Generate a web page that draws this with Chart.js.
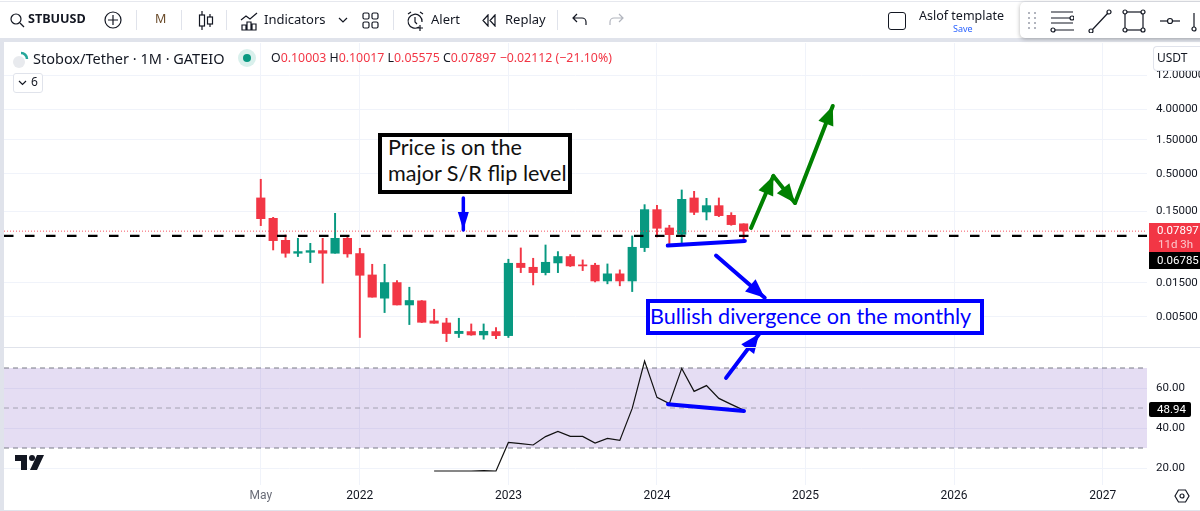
<!DOCTYPE html>
<html>
<head>
<meta charset="utf-8">
<title>STBUUSD</title>
<script src="https://cdn.jsdelivr.net/npm/chart.js@4/dist/chart.umd.min.js"></script>
<style>
  html, body { margin: 0; padding: 0; background: #fff; }
  body { width: 1200px; height: 511px; overflow: hidden; position: relative; font-family: "Noto Sans", sans-serif; color: #131722; }
  canvas { position: absolute; left: 0; top: 0; }
  .t { position: absolute; white-space: nowrap; line-height: 1; }
  .n { font-family: Roboto, sans-serif; }
  .big { font-family: Lato, sans-serif; font-size: 21.6px; }
  .r { position: absolute; }
  svg { position: absolute; fill: none; stroke: #131722; stroke-width: 1.2; }
</style>
</head>
<body>
<canvas id="chart" width="1200" height="511"></canvas>

<!-- frame -->
<div class="r" style="left:0;top:38px;width:1200px;height:4px;background:#e0e3eb"></div>
<div class="r" style="left:0;top:38px;width:4px;height:473px;background:#e0e3eb"></div>
<div class="r" style="left:4px;top:347px;width:1196px;height:1px;background:#e0e3eb"></div>
<div class="r" style="left:4px;top:510px;width:1196px;height:1px;background:#e0e3eb"></div>
<div class="r" style="left:0;top:1px;width:1200px;height:1px;background:#e6e8ee"></div>

<!-- top toolbar -->
<svg style="left:9px;top:12px" width="16" height="16"><circle cx="7" cy="7" r="5"/><path d="M11 11l4 4"/></svg>
<span class="t" style="left:28px;top:13px;font-size:12.6px;font-weight:700">STBUUSD</span>
<svg style="left:104px;top:11px" width="18" height="18"><circle cx="9" cy="9" r="8"/><path d="M9 4v10M4 9h10"/></svg>
<div class="r" style="left:136px;top:10px;width:1px;height:20px;background:#e0e3eb"></div>
<span class="t" style="left:155px;top:13px;font-size:12.5px;color:#6a4b2a">M</span>
<div class="r" style="left:181px;top:10px;width:1px;height:20px;background:#e0e3eb"></div>
<svg style="left:197px;top:10px" width="18" height="21"><path d="M5 1v19M13 4v13"/><rect x="2.5" y="5" width="5" height="11" fill="#fff"/><rect x="10.5" y="7" width="5" height="7" fill="#fff"/></svg>
<div class="r" style="left:226px;top:10px;width:1px;height:20px;background:#e0e3eb"></div>
<svg style="left:240px;top:11px" width="19" height="20"><path d="M1 9l5-4 4 3 7-6M2 19v-5h4v5zM7 19v-8h4v8zM12 19v-6h4v6z"/></svg>
<span class="t" style="left:264px;top:13px;font-size:13px">Indicators</span>
<svg style="left:338px;top:17px" width="10" height="7"><path d="M1 1l4 4 4-4"/></svg>
<svg style="left:362px;top:12px" width="17" height="17"><rect x="1" y="1" width="6" height="6" rx="1.5"/><rect x="10" y="1" width="6" height="6" rx="1.5"/><rect x="1" y="10" width="6" height="6" rx="1.5"/><rect x="10" y="10" width="6" height="6" rx="1.5"/></svg>
<div class="r" style="left:393px;top:10px;width:1px;height:20px;background:#e0e3eb"></div>
<svg style="left:406px;top:11px" width="19" height="21"><path d="M13 16a7 7 0 1 1 3-5M9 6v5l2 2M2 3l3-2M14 1l3 2M14 14v6M11 17h6"/></svg>
<span class="t" style="left:431px;top:13px;font-size:13px">Alert</span>
<svg style="left:481px;top:14px" width="16" height="13"><path d="M7 1L2 6.5 7 12zM14 1L9 6.5l5 5.5z"/></svg>
<span class="t" style="left:505px;top:13px;font-size:13px">Replay</span>
<div class="r" style="left:557px;top:10px;width:1px;height:20px;background:#e0e3eb"></div>
<svg style="left:572px;top:13px" width="16" height="14"><path d="M5 1L1 5l4 4M1 5h9a4 4 0 0 1 4 4v3"/></svg>
<svg style="left:608px;top:13px;stroke:#b2b5be" width="16" height="14"><path d="M11 1l4 4-4 4M15 5H6a4 4 0 0 0-4 4v3"/></svg>
<div class="r" style="left:888px;top:12px;width:16px;height:16px;border:1.5px solid #131722;border-radius:3px"></div>
<span class="t" style="left:919px;top:10px;font-size:12.5px">Aslof template</span>
<span class="t" style="left:953px;top:24px;font-size:9px;color:#2962ff">Save</span>

<!-- floating drawing toolbar -->
<div class="r" style="left:1020px;top:2px;width:190px;height:36px;background:#fff;border-radius:5px;box-shadow:0 1px 4px rgba(0,0,0,.3)"></div>
<svg style="left:1026px;top:12px;stroke:#b2b5be;stroke-dasharray:2 3;stroke-width:2" width="12" height="18"><path d="M3 0v18M9 0v18"/></svg>
<svg style="left:1050px;top:9px" width="24" height="24"><path d="M1 3h22M1 9h20M1 14h22M4 21h20"/><circle cx="22" cy="9" r="2" fill="#fff"/><circle cx="3" cy="21" r="2" fill="#fff"/></svg>
<svg style="left:1088px;top:9px" width="24" height="24"><path d="M4 21L20 4"/><circle cx="21" cy="3" r="2" fill="#fff"/><circle cx="3" cy="22" r="2" fill="#fff"/></svg>
<svg style="left:1122px;top:9px" width="24" height="24"><rect x="3" y="3" width="18" height="18"/><circle cx="3" cy="3" r="2" fill="#fff"/><circle cx="21" cy="3" r="2" fill="#fff"/><circle cx="3" cy="21" r="2" fill="#fff"/><circle cx="21" cy="21" r="2" fill="#fff"/></svg>
<svg style="left:1158px;top:9px" width="24" height="24"><path d="M2 12h20"/><circle cx="12" cy="12" r="2.5" fill="#fff"/></svg>
<svg style="left:1190px;top:9px" width="10" height="26"><path d="M4 4v14"/><circle cx="4" cy="20" r="2" fill="#fff"/></svg>

<!-- series legend -->
<svg style="left:12px;top:50px;stroke:none" width="20" height="18"><circle cx="7" cy="12" r="6" fill="#e8eaee"/><path d="M9 3a6 6 0 0 1 6 6" stroke="#26a69a" stroke-width="2.5"/></svg>
<span class="t" style="left:33px;top:51px;font-size:14.5px;color:#131722">Stobox/Tether · 1M · GATEIO</span>
<div class="r" style="left:238px;top:49px;width:18px;height:18px;border-radius:9px;background:#d9f0ec"></div>
<div class="r" style="left:243px;top:54px;width:8px;height:8px;border-radius:4px;background:#089981"></div>
<span class="t" style="left:271px;top:52px;font-size:12.35px;color:#f23645" id="ohlc"><span style="color:#131722">O</span>0.10003 <span style="color:#131722">H</span>0.10017 <span style="color:#131722">L</span>0.05575 <span style="color:#131722">C</span>0.07897 −0.02112 (−21.10%)</span>
<div class="r" style="left:13px;top:73px;width:28px;height:18px;border:1px solid #e0e3eb;border-radius:3px;background:#fff"></div>
<svg style="left:18px;top:80px" width="9" height="6"><path d="M1 1l3.5 3.5L8 1"/></svg>
<span class="t" style="left:31px;top:76px;font-size:12px">6</span>

<!-- price scale extras -->
<div class="r" style="left:1153px;top:46px;width:47px;height:25px;background:#fff;border:1px solid #e0e3eb;border-right:none;border-radius:4px 0 0 4px;box-sizing:border-box"></div>
<span class="t" style="left:1157px;top:52px;font-size:12px">USDT</span>
<div class="r" style="left:1149px;top:223px;width:51px;height:29px;background:#f23645"></div>
<span class="t n" style="left:1157px;top:225px;font-size:11.5px;color:#fff">0.07897</span>
<span class="t n" style="left:1158px;top:239px;font-size:11.5px;color:#fbc9cd">11d 3h</span>
<div class="r" style="left:1149px;top:252px;width:51px;height:17px;background:#000"></div>
<span class="t n" style="left:1157px;top:255px;font-size:11.5px;color:#fff">0.06785</span>
<div class="r" style="left:1149px;top:402px;width:42px;height:15px;background:#000;border-radius:2px"></div>
<span class="t n" style="left:1157px;top:404px;font-size:11.5px;color:#fff">48.94</span>
<svg style="left:1174px;top:488px" width="16" height="16"><path d="M1 8l3.5-6h7L15 8l-3.5 6h-7z"/><circle cx="8" cy="8" r="2"/></svg>

<!-- tradingview mark -->
<svg style="left:15px;top:455px;stroke:none;fill:#131722" width="30" height="16"><path d="M0 0h12v15H6V6H0z"/><circle cx="17" cy="3" r="3"/><path d="M22 0h7l-7 15h-7z"/></svg>

<!-- annotation boxes -->
<div class="r" style="left:378px;top:133px;width:194px;height:61px;box-sizing:border-box;border:4px solid #000;background:#fff"></div>
<span class="t big" style="left:388px;top:137px;color:#111">Price is on the</span>
<span class="t big" style="left:388px;top:163px;color:#111">major S/R flip level</span>
<div class="r" style="left:646px;top:299px;width:338px;height:36px;box-sizing:border-box;border:4px solid #0000ff;background:#fff"></div>
<span class="t big" style="left:650px;top:306px;color:#0000ff">Bullish divergence on the monthly</span>

<script>
// monthly candles, May 2021 = month 0
const months = [0, 1, 2, 3, 4, 5, 6, 7, 8, 9, 10, 11, 12, 13, 14, 15, 16, 17, 18, 19, 20, 21, 22, 23, 24, 25, 26, 27, 28, 29, 30, 31, 32, 33, 34, 35, 36, 37, 38, 39];
const opens = [0.230, 0.1194, 0.0588, 0.0388, 0.0400, 0.0422, 0.0388, 0.0627, 0.0384, 0.0193, 0.00914, 0.0151, 0.00735, 0.00839, 0.00440, 0.00412, 0.00293, 0.00312, 0.00280, 0.00312, 0.00274, 0.0281, 0.0247, 0.0208, 0.0284, 0.0349, 0.0267, 0.0264, 0.0159, 0.0200, 0.0159, 0.0465, 0.1578, 0.0875, 0.0714, 0.2297, 0.1464, 0.1794, 0.1315, 0.10003];
const highs = [0.419, 0.1233, 0.0699, 0.0627, 0.0534, 0.0627, 0.1402, 0.0677, 0.0455, 0.0272, 0.0272, 0.0161, 0.0130, 0.00848, 0.00640, 0.00479, 0.00479, 0.00399, 0.00399, 0.00355, 0.0320, 0.0460, 0.0330, 0.0506, 0.0409, 0.0372, 0.0313, 0.0281, 0.0275, 0.0227, 0.0677, 0.1853, 0.1813, 0.0954, 0.2971, 0.2846, 0.2272, 0.2297, 0.1432, 0.10017];
const lows = [0.0943, 0.0431, 0.0341, 0.0349, 0.0287, 0.0148, 0.0388, 0.0341, 0.00258, 0.00944, 0.00575, 0.00735, 0.00391, 0.00417, 0.00408, 0.00226, 0.00258, 0.00277, 0.00244, 0.00249, 0.00258, 0.0208, 0.0140, 0.0193, 0.0208, 0.0253, 0.0222, 0.0154, 0.0145, 0.0136, 0.0113, 0.0409, 0.0655, 0.0529, 0.0546, 0.1344, 0.1132, 0.1260, 0.0954, 0.05575];
const closes = [0.118, 0.0582, 0.0388, 0.0409, 0.0422, 0.0388, 0.0627, 0.0380, 0.0191, 0.00944, 0.0151, 0.00735, 0.00848, 0.00421, 0.00408, 0.00293, 0.00315, 0.00280, 0.00315, 0.00274, 0.0281, 0.0245, 0.0208, 0.0290, 0.0349, 0.0258, 0.0258, 0.0159, 0.0200, 0.0159, 0.0470, 0.1578, 0.0866, 0.0706, 0.2200, 0.1448, 0.1794, 0.1301, 0.0974, 0.07897];

const rsiMonths = [14, 15, 16, 17, 18, 19, 20, 21, 22, 23, 24, 25, 26, 27, 28, 29, 30, 31, 32, 33, 34, 35, 36, 37, 38, 39];
const rsiValues = [18.5, 18.5, 18.5, 18.5, 18.7, 18.5, 32.8, 32.2, 31.5, 35.7, 38.3, 35.8, 35.8, 32.5, 34.8, 33.8, 49.8, 73.5, 55.3, 52.2, 69.8, 58.3, 61.2, 54.8, 51.8, 48.94];

const priceTicks = [12, 4, 1.5, 0.5, 0.15, 0.015, 0.005];
const rsiTicks = [60, 40, 20];
const timeTicks = [0, 8, 20, 32, 44, 56, 68];
const timeLabels = ["May", "2022", "2023", "2024", "2025", "2026", "2027"];

const lastPrice = 0.07897;
const srLevel = 0.06785;
const rsiBandTop = 70;
const rsiBandMid = 50;
const rsiBandBottom = 30;

// hand drawn lines on the chart, month + price (or rsi)
const srArrowX = [16.36, 16.36];
const srArrowY = [0.2297, 0.0821];
const greenUpX = [39.6, 41.4];
const greenUpY = [0.0875, 0.466];
const greenDownX = [41.4, 43.15];
const greenDownY = [0.466, 0.1956];
const greenUp2X = [43.15, 46.2];
const greenUp2Y = [0.1956, 4.43];
const supportX = [32.87, 39.1];
const supportY = [0.0496, 0.0576];
const toBoxX = [36.77, 40.7];
const toBoxY = [0.036, 0.00924];
const fromRsiX = [37.58, 40.25];
const fromRsiY = [0.000704, 0.00289];
const rsiLineX = [32.89, 39.03];
const rsiLineY = [51.85, 48.5];

const xMin = -20.74;
const xMax = 71.58;
const UP = "#089981";
const DOWN = "#f23645";

function pts(xs, ys) {
  return xs.map((x, i) => ({ x: x, y: ys[i] }));
}

function flat(value) {
  return [{ x: xMin, y: value }, { x: xMax, y: value }];
}

function candleColors() {
  return months.map((_, i) => (closes[i] >= opens[i] ? UP : DOWN));
}

function drawing(xs, ys, color, width, yAxisID, arrow) {
  return {
    type: "line",
    data: pts(xs, ys),
    borderColor: color,
    backgroundColor: color,
    borderWidth: width,
    borderCapStyle: "round",
    pointRadius: 0,
    yAxisID: yAxisID,
    order: -2,
    clip: false,
    arrow: arrow,
  };
}

// arrow heads go on the last segment of the drawings, placed through the scales
const arrowHeads = {
  id: "arrowHeads",
  afterDatasetsDraw(chart) {
    const ctx = chart.ctx;
    chart.data.datasets.forEach((ds) => {
      if (!ds.arrow) return;
      const n = ds.data.length;
      const sy = chart.scales[ds.yAxisID];
      const x1 = chart.scales.x.getPixelForValue(ds.data[n - 2].x);
      const y1 = sy.getPixelForValue(ds.data[n - 2].y);
      const x2 = chart.scales.x.getPixelForValue(ds.data[n - 1].x);
      const y2 = sy.getPixelForValue(ds.data[n - 1].y);
      const a = Math.atan2(y2 - y1, x2 - x1);
      ctx.save();
      ctx.translate(x2, y2);
      ctx.rotate(a);
      ctx.fillStyle = ds.borderColor;
      ctx.beginPath();
      ctx.moveTo(0, 0);
      ctx.lineTo(-ds.arrow.len, -ds.arrow.wide / 2);
      ctx.lineTo(-ds.arrow.len, ds.arrow.wide / 2);
      ctx.closePath();
      ctx.fill();
      ctx.restore();
    });
  },
};

function buildConfig() {
  const colors = candleColors();
  const bigHead = { len: 19, wide: 16 };
  const smallHead = { len: 18, wide: 11 };
  return {
    type: "bar",
    data: {
      datasets: [
        {
          data: months.map((m, i) => ({ x: m, y: [lows[i], highs[i]] })),
          backgroundColor: colors,
          barThickness: 1.3,
          yAxisID: "price",
          order: 2,
        },
        {
          data: months.map((m, i) => ({ x: m, y: [opens[i], closes[i]] })),
          backgroundColor: colors,
          barThickness: 8.5,
          yAxisID: "price",
          order: 1,
        },
        {
          type: "line",
          data: flat(lastPrice),
          borderColor: "rgba(242,54,69,0.85)",
          borderWidth: 1,
          borderDash: [1, 2],
          pointRadius: 0,
          yAxisID: "price",
          order: 0,
        },
        {
          type: "line",
          data: flat(srLevel),
          borderColor: "#000",
          borderWidth: 2.2,
          borderDash: [9.5, 11.5],
          pointRadius: 0,
          yAxisID: "price",
          order: -1,
        },
        {
          type: "line",
          data: flat(rsiBandTop),
          borderColor: "#787b86",
          borderWidth: 1,
          borderDash: [5, 4],
          pointRadius: 0,
          fill: { target: { value: rsiBandBottom } },
          backgroundColor: "rgba(126,87,194,0.2)",
          yAxisID: "rsi",
          order: 5,
        },
        {
          type: "line",
          data: flat(rsiBandMid),
          borderColor: "rgba(120,123,134,0.6)",
          borderWidth: 1,
          borderDash: [5, 4],
          pointRadius: 0,
          yAxisID: "rsi",
          order: 4,
        },
        {
          type: "line",
          data: flat(rsiBandBottom),
          borderColor: "#787b86",
          borderWidth: 1,
          borderDash: [5, 4],
          pointRadius: 0,
          yAxisID: "rsi",
          order: 4,
        },
        {
          type: "line",
          data: pts(rsiMonths, rsiValues),
          borderColor: "#111",
          borderWidth: 1.2,
          pointRadius: 0,
          yAxisID: "rsi",
          order: 3,
        },
        drawing(srArrowX, srArrowY, "#0000ff", 3.5, "price", smallHead),
        drawing(greenUpX, greenUpY, "#008000", 4, "price", bigHead),
        drawing(greenDownX, greenDownY, "#008000", 4, "price", bigHead),
        drawing(greenUp2X, greenUp2Y, "#008000", 4, "price", bigHead),
        drawing(supportX, supportY, "#0000ff", 4, "price"),
        drawing(toBoxX, toBoxY, "#0000ff", 4, "price", bigHead),
        drawing(fromRsiX, fromRsiY, "#0000ff", 4, "price", bigHead),
        drawing(rsiLineX, rsiLineY, "#0000ff", 4, "rsi"),
      ],
    },
    plugins: [arrowHeads],
    options: {
      responsive: false,
      animation: false,
      events: [],
      grouped: false,
      layout: { padding: { left: 4, top: 43, right: 0, bottom: 1 } },
      plugins: { legend: { display: false }, tooltip: { enabled: false } },
      scales: {
        x: {
          type: "linear",
          min: xMin,
          max: xMax,
          offset: false,
          afterBuildTicks: (scale) => {
            scale.ticks = timeTicks.map((v) => ({ value: v }));
          },
          afterFit: (scale) => {
            scale.height = 25;
          },
          grid: { color: "#f0f3fa", offset: false, drawTicks: false },
          border: { display: false },
          ticks: {
            autoSkip: false,
            maxRotation: 0,
            padding: 4,
            color: (c) => (c.index === 0 ? "#6a6d78" : "#131722"),
            font: { family: "Roboto", size: 12 },
            callback: (v, i) => timeLabels[i],
          },
        },
        price: {
          axis: "y",
          type: "logarithmic",
          position: "right",
          stack: "panes",
          stackWeight: 304,
          min: 0.0019,
          max: 33.6,
          afterBuildTicks: (scale) => {
            scale.ticks = priceTicks.map((v) => ({ value: v }));
          },
          afterFit: (scale) => {
            scale.width = 53;
          },
          grid: { color: "#f0f3fa", drawTicks: false },
          border: { display: false },
          ticks: {
            autoSkip: false,
            padding: 9,
            color: "#131722",
            font: { family: "Roboto", size: 11.5 },
            callback: (v) => v.toFixed(5),
          },
        },
        rsi: {
          axis: "y",
          type: "linear",
          position: "right",
          stack: "panes",
          stackWeight: 138,
          min: 11.5,
          max: 80.5,
          afterBuildTicks: (scale) => {
            scale.ticks = rsiTicks.map((v) => ({ value: v }));
          },
          afterFit: (scale) => {
            scale.width = 53;
          },
          grid: { color: "#f0f3fa", drawTicks: false },
          border: { display: false },
          ticks: {
            autoSkip: false,
            padding: 9,
            color: "#131722",
            font: { family: "Roboto", size: 11.5 },
            callback: (v) => v.toFixed(2),
          },
        },
      },
    },
  };
}

new Chart(document.getElementById("chart").getContext("2d"), buildConfig());
</script>
</body>
</html>
